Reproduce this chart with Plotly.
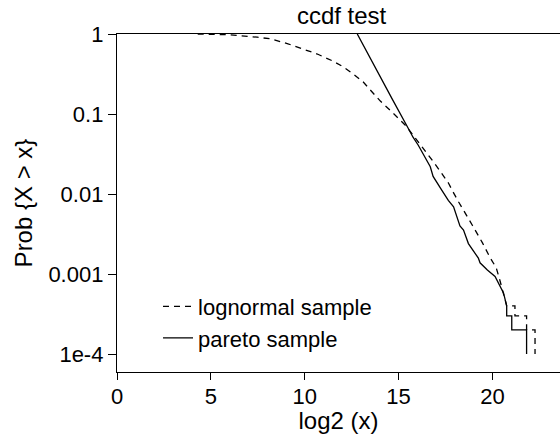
import plotly.graph_objects as go

# lognormal sample ccdf (log2 x, P{X > x})
logn_x = [4.3, 6.0, 7.47, 8.16, 9.07, 10.13, 10.67, 11.52, 12.05, 12.59, 13.12, 13.49,
          14.03, 14.72, 15.36, 15.79, 16.32, 16.8, 17.23, 17.65, 17.85, 18.2, 18.93,
          19.47, 19.89, 20.2, 20.4, 20.68, 20.76, 21.2, 21.2, 21.82, 21.82, 22.27, 22.27]
logn_p = [1.0, 0.98, 0.912, 0.871, 0.759, 0.631, 0.562, 0.457, 0.389, 0.316, 0.251, 0.200,
          0.145, 0.102, 0.0724, 0.0537, 0.0372, 0.0263, 0.0191, 0.0138, 0.0112, 0.00794, 0.00407,
          0.00245, 0.00158, 0.0012, 0.00083, 0.00047, 0.0004, 0.0004, 0.0003, 0.0003, 0.0002, 0.0002, 0.0001]

# pareto sample ccdf
par_x = [12.8, 14.38, 14.7, 15.52, 15.77, 16.05, 16.69, 16.84, 17.07, 17.3, 17.65, 17.93,
         18.27, 18.46, 18.72, 19.25, 19.34, 19.73, 20.14, 20.32, 20.59, 20.76, 20.76, 21.03,
         21.03, 21.82, 21.82]
par_p = [1.0, 0.2, 0.148, 0.066, 0.0513, 0.0407, 0.0219, 0.0166, 0.0138, 0.0112, 0.0083, 0.0069,
         0.00398, 0.00355, 0.0024, 0.00158, 0.00138, 0.00112, 0.00093, 0.00076, 0.00058, 0.0004,
         0.0003, 0.0003, 0.0002, 0.0002, 0.0001]

y_tickvals = [1, 0.1, 0.01, 0.001, 0.0001]
y_ticktext = ["1", "0.1", "0.01", "0.001", "1e-4"]
x_tickvals = [0, 5, 10, 15, 20]

FONT = "Liberation Sans, Arial, Helvetica, sans-serif"

fig = go.Figure()
fig.add_trace(go.Scatter(x=logn_x, y=logn_p, mode="lines", name="lognormal sample",
                         line=dict(color="black", width=1.3, dash="6px,5px")))
fig.add_trace(go.Scatter(x=par_x, y=par_p, mode="lines", name="pareto sample",
                         line=dict(color="black", width=1.3)))

fig.update_layout(
    width=560, height=434,
    margin=dict(l=117, r=0, t=34, b=62, autoexpand=False),
    paper_bgcolor="white", plot_bgcolor="white",
    font=dict(family=FONT, size=23, color="black"),
    title=dict(text="ccdf test", x=0.61, xanchor="center", y=0.963, yanchor="middle",
               font=dict(size=24)),
    showlegend=True,
    legend=dict(x=0.0926, y=0.1464, xanchor="left", yanchor="middle",
                bgcolor="rgba(0,0,0,0)", font=dict(size=22), tracegroupgap=0),
)
fig.update_xaxes(range=[0, 23.6], tickvals=x_tickvals, ticks="outside", ticklen=7,
                 tickcolor="black", tickwidth=1.3, showline=True, linecolor="black", linewidth=1.3,
                 mirror=True, showgrid=False, zeroline=False, automargin=False,
                 ticklabelstandoff=-3, tickfont=dict(size=22),
                 title=dict(text="log2 (x)", standoff=0, font=dict(size=24)))
fig.update_yaxes(type="log", range=[-4.225, 0], tickvals=y_tickvals, ticktext=y_ticktext,
                 ticks="outside", ticklen=8, tickcolor="black", tickwidth=1.3,
                 showline=True, linecolor="black", linewidth=1.3, showgrid=False, zeroline=False,
                 automargin=False, tickfont=dict(size=22),
                 title=dict(text="Prob {X > x}", standoff=8, font=dict(size=24)))

fig.write_html("out.html", config={"displayModeBar": False},
               post_script="document.body.style.margin='0';")
